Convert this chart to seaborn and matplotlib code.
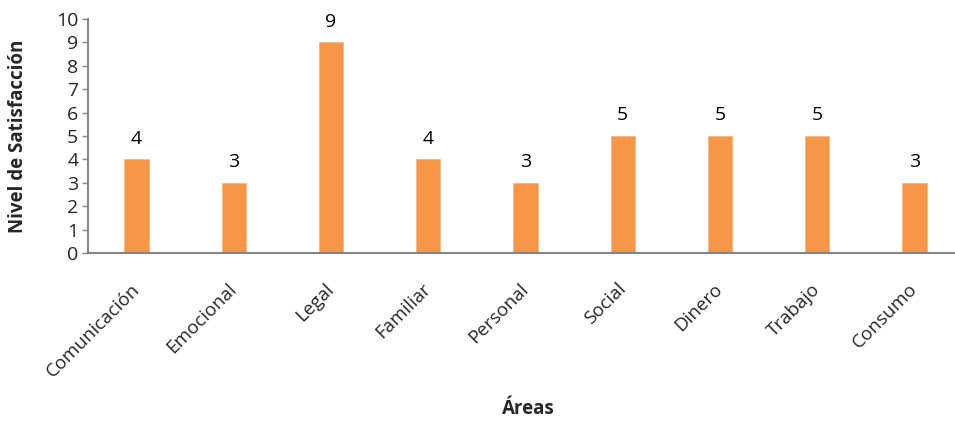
import matplotlib
matplotlib.use("Agg")
import matplotlib.pyplot as plt
import seaborn as sns
import pandas as pd

areas = ["Comunicación", "Emocional", "Legal", "Familiar", "Personal",
         "Social", "Dinero", "Trabajo", "Consumo"]
satisfaccion = [4, 3, 9, 4, 3, 5, 5, 5, 3]
y_ticks = list(range(0, 11))

sns.set_theme(style="white")
plt.rcParams["font.family"] = ["Open Sans", "DejaVu Sans"]

df = pd.DataFrame({"Área": areas, "Nivel": satisfaccion})

W, H = 955, 423
fig = plt.figure(figsize=(W / 100, H / 100), dpi=100)
left, right, bottom, top = 88, 963, 253, 19
ax = fig.add_axes([left / W, 1 - bottom / H, (right - left) / W, (bottom - top) / H])

sns.barplot(data=df, x="Área", y="Nivel", color="#F79646", width=0.25,
            saturation=1, ax=ax)
for p in ax.patches:
    p.set_edgecolor("#FAB584")
    p.set_linewidth(0.6)

ax.set_ylim(0, 10)
ax.set_xlim(-0.5, 8.5)
ax.set_yticks(y_ticks)
ax.tick_params(axis="y", labelsize=14, length=4, width=1, color="#868686",
               direction="out", pad=3, left=True)
ax.tick_params(axis="x", length=0, labelsize=13.5, pad=24)
for lbl in ax.get_xticklabels():
    lbl.set_rotation(45)
    lbl.set_ha("right")
    lbl.set_va("center")
    lbl.set_rotation_mode("anchor")

for i, v in enumerate(satisfaccion):
    ax.text(i, v + 0.5, str(v), ha="center", va="bottom", fontsize=14,
            color="#000000")

for s in ["top", "right"]:
    ax.spines[s].set_visible(False)
for s in ["left", "bottom"]:
    ax.spines[s].set_color("#868686")
    ax.spines[s].set_linewidth(1.5)

ax.set_xlabel("Áreas", fontsize=13.5, fontweight="bold")
ax.set_ylabel("Nivel de Satisfacción", fontsize=13.5, fontweight="bold")
ax.xaxis.set_label_coords((528 - left) / (right - left), -(399 - bottom) / (bottom - top))
ax.yaxis.set_label_coords(-(88 - 28) / (right - left), 0.5)

fig.savefig("out.png", dpi=100, facecolor="white")
